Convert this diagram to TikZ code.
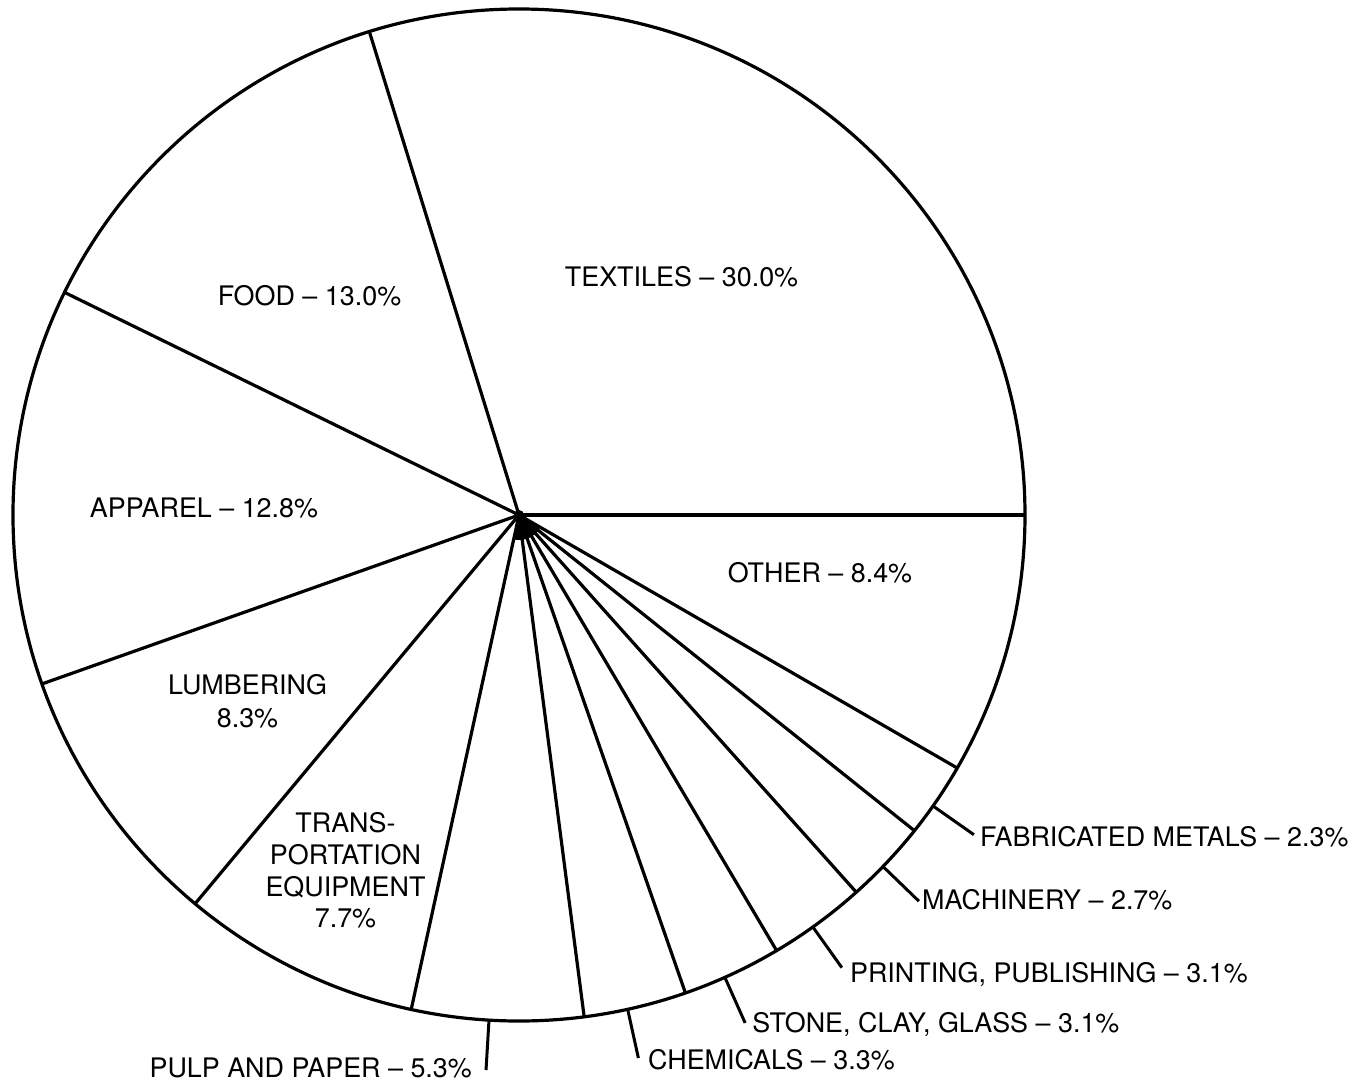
\documentclass[tikz,border=0pt]{standalone}
\usepackage{fontspec}
\setmainfont{TeX Gyre Heros}
\newcommand\lblfont{\fontsize{26.9}{32.5}\selectfont}
\begin{document}
\begin{tikzpicture}[x=1pt,y=1pt,
  edge/.style={line width=3.2pt},
  tickline/.style={line width=3pt},
  lbl/.style={inner sep=0pt, font=\lblfont, text height=19.3pt, text depth=0pt},
  blk/.style={inner sep=0pt, align=center, anchor=north}]
\useasboundingbox (-519,-570) rectangle (851,515);
\coordinate (O) at (0,0);
% circle and slice boundaries
\draw[edge] (O) circle (506);
\foreach \a [count=\i] in {0,107.2,153.9,199.5,230.2,257.7,277.4,289.2,300.6,311.8,321.4,330.0}{
  \coordinate (b\i) at (\a:506);
  \draw[edge] (O) -- (b\i);
}
\fill (O) -- (260:25) arc[start angle=260,end angle=326,radius=25] -- cycle;
\fill (O) circle (5);
% labels inside slices
\node[lbl] (textiles) at (162.5,238) {TEXTILES – 30.0\%};
\node[lbl] (food) at (-209.5,219) {FOOD – 13.0\%};
\node[lbl] (apparel) at (-315,7) {APPAREL – 12.8\%};
\node[lbl] (other) at (301,-58) {OTHER – 8.4\%};
\node[blk, font=\fontsize{26.9}{33}\selectfont] (lumber) at (-271.5,-159.5) {LUMBERING\\8.3\%};
\node[blk, font=\fontsize{26.9}{31.7}\selectfont] (trans) at (-173.5,-297.4) {TRANS-\\PORTATION\\EQUIPMENT\\7.7\%};
% ticks and outside labels
\foreach \n/\a in {pulp/266.6,chem/282.4,stone/294,print/305.5,mach/316,fab/324.9}{
  \coordinate (\n A) at (\a:506);
  \coordinate (\n B) at (\a:556);
  \draw[tickline] (\n A) -- (\n B);
}
\node[lbl, anchor=east, xshift=-14pt, yshift=2pt] (pulp) at (pulpB) {PULP AND PAPER – 5.3\%};
\node[lbl, anchor=west, xshift=9.6pt, yshift=-2pt] (chem) at (chemB) {CHEMICALS – 3.3\%};
\node[lbl, anchor=west, xshift=7pt] (stone) at (stoneB) {STONE, CLAY, GLASS – 3.1\%};
\node[lbl, anchor=west, xshift=8pt, yshift=-5pt] (print) at (printB) {PRINTING, PUBLISHING – 3.1\%};
\node[lbl, anchor=west, xshift=3pt, yshift=1pt] (mach) at (machB) {MACHINERY – 2.7\%};
\node[lbl, anchor=west, xshift=6pt, yshift=-2pt] (fab) at (fabB) {FABRICATED METALS – 2.3\%};
\end{tikzpicture}
\end{document}
